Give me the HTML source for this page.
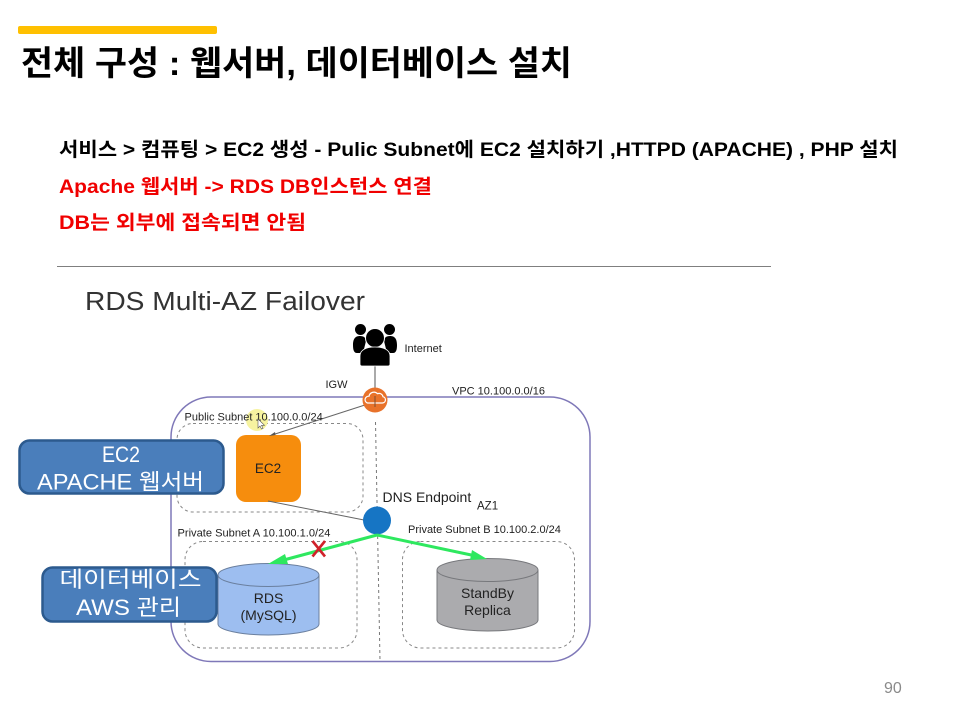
<!DOCTYPE html>
<html lang="ko">
<head>
<meta charset="utf-8">
<title>전체 구성</title>
<style>
html,body{margin:0;padding:0;background:#fff}
svg{display:block}
text{font-family:"Liberation Sans","Noto Sans CJK KR",sans-serif}
.b{font-weight:700}
</style>
</head>
<body>
<svg width="960" height="720" viewBox="0 0 960 720" xmlns="http://www.w3.org/2000/svg">
<defs>
<filter id="s" x="-5%" y="-5%" width="110%" height="110%"><feGaussianBlur stdDeviation="0.3"/></filter>
</defs>
<rect width="960" height="720" fill="#fff"/>
<rect x="18" y="26" width="199" height="8" rx="2" fill="#FFC000"/>
<text class="b" x="21" y="75" font-size="34" fill="#000" textLength="551" lengthAdjust="spacingAndGlyphs">전체 구성 : 웹서버, 데이터베이스 설치</text>

<text class="b" x="59" y="156" font-size="19.500" fill="#000" textLength="839" lengthAdjust="spacingAndGlyphs">서비스 &gt; 컴퓨팅 &gt; EC2 생성  - Pulic Subnet에 EC2 설치하기 ,HTTPD (APACHE) , PHP 설치</text>
<text class="b" x="59" y="193" font-size="19.500" fill="#F00000" textLength="373" lengthAdjust="spacingAndGlyphs">Apache 웹서버 -&gt; RDS DB인스턴스 연결</text>
<text class="b" x="59" y="229" font-size="19.500" fill="#F00000" textLength="247" lengthAdjust="spacingAndGlyphs">DB는 외부에 접속되면 안됨</text>
<line x1="57" y1="266.5" x2="771" y2="266.5" stroke="#7f7f7f" stroke-width="1"/>

<text x="85" y="310" font-size="25.5" fill="#333" textLength="280" lengthAdjust="spacingAndGlyphs">RDS Multi-AZ Failover</text>

<g filter="url(#s)">
<rect x="171" y="397" width="419" height="264.500" rx="40" fill="#fff" stroke="#7F78B8" stroke-width="1.500"/>
<line x1="375.500" y1="422" x2="380" y2="661" stroke="#777" stroke-width="1" stroke-dasharray="3 3"/>
<rect x="177" y="423.500" width="186" height="88.500" rx="16" fill="none" stroke="#888" stroke-width="1" stroke-dasharray="3 3"/>
<rect x="185" y="541.500" width="172" height="106.500" rx="18" fill="none" stroke="#888" stroke-width="1" stroke-dasharray="3 3"/>
<rect x="402.500" y="541.500" width="172" height="106.500" rx="18" fill="none" stroke="#888" stroke-width="1" stroke-dasharray="3 3"/>

<circle cx="257" cy="420" r="11" fill="#F6F3A0"/>

<rect x="236" y="435" width="65" height="67" rx="10" fill="#F68D0E"/>
<text x="268" y="473" font-size="13.500" text-anchor="middle" fill="#222">EC2</text>

<line x1="375" y1="366" x2="375" y2="405" stroke="#555" stroke-width="1"/>
<line x1="368" y1="404" x2="272" y2="435" stroke="#666" stroke-width="1"/>
<polygon points="269,436 275,432 275.500,435" fill="#555"/>
<line x1="268" y1="501" x2="364" y2="520" stroke="#666" stroke-width="1"/>

<circle cx="375" cy="400" r="12.500" fill="#E8722C"/>
<path d="M367.500 403h15a3.200 3.200 0 0 0 .5-6.300a4 4 0 0 0-5.500-3a5 5 0 0 0-8.500 2.500a3.500 3.500 0 0 0-1.500 6.800z" fill="none" stroke="#fff" stroke-width="1.200"/>
<line x1="375" y1="396" x2="375" y2="407" stroke="#80502f" stroke-width="1"/>

<circle cx="377" cy="520.500" r="14" fill="#1474C4"/>

<path d="M218 575V624A50.500 11 0 0 0 319 624V575Z" fill="#9DBEF0" stroke="#6A7F9E" stroke-width="1"/>
<ellipse cx="268.500" cy="575" rx="50.500" ry="11.500" fill="#9DBEF0" stroke="#6A7F9E" stroke-width="1"/>
<text x="268.500" y="603" font-size="14" text-anchor="middle" fill="#222">RDS</text>
<text x="268.500" y="620" font-size="14" text-anchor="middle" fill="#222">(MySQL)</text>

<path d="M437 570V620A50.500 11 0 0 0 538 620V570Z" fill="#ABABAE" stroke="#77787C" stroke-width="1"/>
<ellipse cx="487.500" cy="570" rx="50.500" ry="11.500" fill="#ABABAE" stroke="#77787C" stroke-width="1"/>
<text x="487.500" y="598" font-size="14" text-anchor="middle" fill="#222">StandBy</text>
<text x="487.500" y="615" font-size="14" text-anchor="middle" fill="#222">Replica</text>

<line x1="377" y1="535" x2="280" y2="561" stroke="#2EE85F" stroke-width="3"/>
<polygon points="268,564 285,554 288,564" fill="#2EE85F"/>
<line x1="377" y1="535" x2="476" y2="556" stroke="#2EE85F" stroke-width="3"/>
<polygon points="487,559 472,550 470,560" fill="#2EE85F"/>

<path d="M312.500 541L325 556.500M325 541L312.500 556.500" stroke="#D0202A" stroke-width="2.600" fill="none"/>

<circle cx="360.500" cy="329.500" r="5.500" fill="#000"/>
<circle cx="389.500" cy="329.500" r="5.500" fill="#000"/>
<path d="M353 345c0-7 3-9 7-9s6 2 6 5l-3 12h-6c-3 0-4-3-4-8zM397 345c0-7-3-9-7-9s-6 2-6 5l3 12h6c3 0 4-3 4-8z" fill="#000"/>
<circle cx="375" cy="338" r="9.500" fill="#000" stroke="#fff" stroke-width="1"/>
<path d="M360 364v-8c0-6 6-9 15-9s15 3 15 9v8q0 2-2 2h-26q-2 0-2-2z" fill="#000" stroke="#fff" stroke-width="0.800"/>

<g fill="#222">
<text x="404.500" y="352" font-size="11">Internet</text>
<text x="325.500" y="388" font-size="11">IGW</text>
<text x="452" y="394.500" font-size="11">VPC 10.100.0.0/16</text>
<text x="184.500" y="420.500" font-size="11">Public Subnet 10.100.0.0/24</text>
<text x="382.500" y="502" font-size="14">DNS Endpoint</text>
<text x="477" y="509.500" font-size="11.500">AZ1</text>
<text x="177.500" y="536.500" font-size="11.100">Private Subnet A 10.100.1.0/24</text>
<text x="408" y="533" font-size="11">Private Subnet B 10.100.2.0/24</text>
</g>
</g>
<path d="M258 419l0 9l2-2l1.500 3l1.500-.7l-1.500-3h3z" fill="#fff" stroke="#555" stroke-width="0.600"/>

<rect x="19.500" y="440.500" width="204" height="53" rx="10" fill="#4A7EBB" stroke="#2C5A8E" stroke-width="2.500"/>
<text x="102" y="462" font-size="22" fill="#fff" textLength="38" lengthAdjust="spacingAndGlyphs">EC2</text>
<text x="37" y="489.500" font-size="22" fill="#fff" textLength="167" lengthAdjust="spacingAndGlyphs">APACHE 웹서버</text>

<rect x="42.500" y="567.500" width="174" height="54" rx="10" fill="#4A7EBB" stroke="#2C5A8E" stroke-width="2.500"/>
<text x="59.500" y="587" font-size="22" fill="#fff" textLength="142" lengthAdjust="spacingAndGlyphs">데이터베이스</text>
<text x="76" y="615" font-size="22" fill="#fff" textLength="105" lengthAdjust="spacingAndGlyphs">AWS 관리</text>

<text x="884" y="693" font-size="16" fill="#8a8a8a">90</text>
</svg>
</body>
</html>
